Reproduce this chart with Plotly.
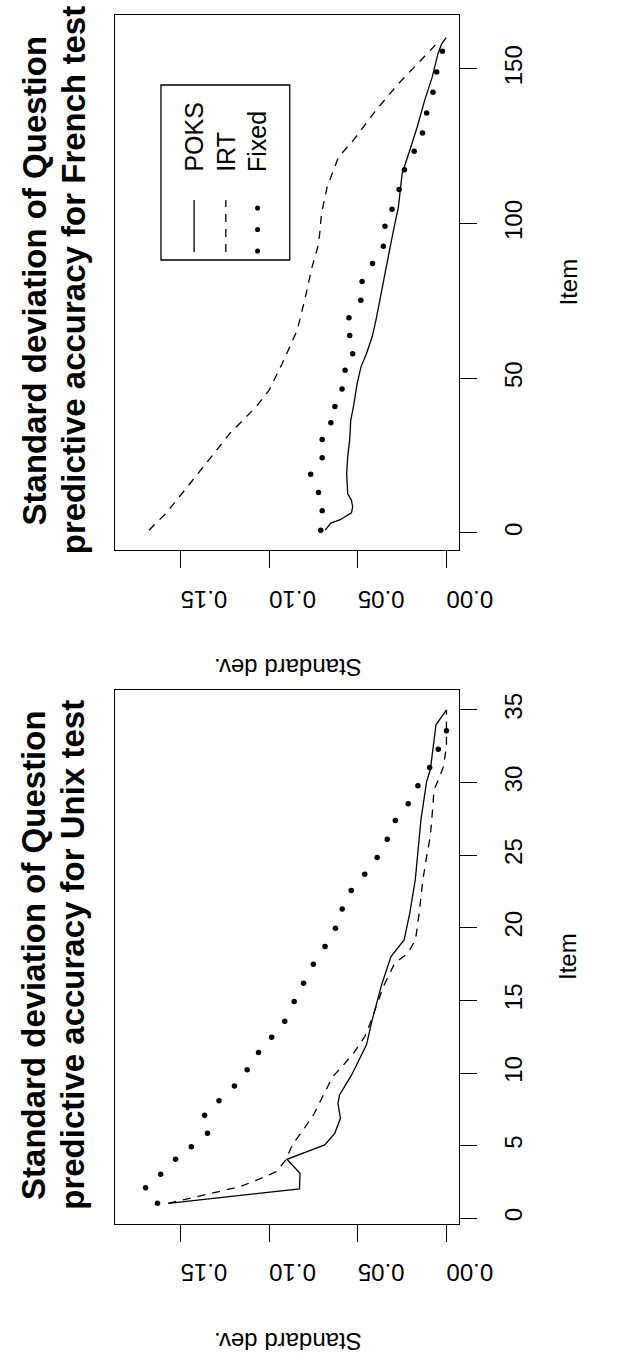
import plotly.graph_objects as go

W, H = 621, 1370

# ---------------- data: French test ----------------
fr_fixed_item = [0.9, 7.2, 13.1, 19.0, 24.3, 30.2, 35.6, 40.9, 46.5, 52.6, 57.9, 63.8, 69.6, 75.2,
                 81.3, 87.1, 92.7, 99.1, 104.6, 111.0, 117.4, 123.4, 129.3, 135.7, 142.4, 149.0, 155.7]
fr_fixed_sd = [0.0709, 0.0701, 0.0722, 0.0766, 0.0701, 0.0701, 0.0652, 0.0629, 0.0589, 0.0572, 0.0529,
               0.0546, 0.0550, 0.0483, 0.0476, 0.0417, 0.0356, 0.0347, 0.0307, 0.0267, 0.0237, 0.0182,
               0.0135, 0.0112, 0.0076, 0.0055, 0.0023]

fr_poks_item = [0.9, 3.2, 4.3, 6.5, 8.4, 10.6, 12.7, 19.2, 24.6, 30.0, 36.4, 40.7, 48.3, 53.7, 58.0,
                63.4, 68.7, 78.4, 88.1, 96.7, 105.4, 116.1, 123.7, 131.2, 139.8, 147.4, 154.9, 158.1, 160.1]
fr_poks_sd = [0.0684, 0.0652, 0.0599, 0.0536, 0.0529, 0.0536, 0.0557, 0.0563, 0.0557, 0.0546, 0.0540,
              0.0525, 0.0504, 0.0482, 0.0451, 0.0419, 0.0398, 0.0366, 0.0334, 0.0303, 0.0271, 0.0250,
              0.0207, 0.0165, 0.0123, 0.0080, 0.0048, 0.0027, 0.0002]

fr_irt_item = [0.9, 6.3, 13.8, 23.0, 32.1, 40.7, 46.1, 54.7, 65.5, 75.2, 86.0, 92.4, 96.7, 103.2,
               111.8, 121.5, 126.9, 136.6, 145.2, 152.8, 159.2]
fr_irt_sd = [0.1678, 0.1583, 0.1477, 0.1350, 0.1223, 0.1075, 0.1001, 0.0927, 0.0842, 0.0800, 0.0758,
             0.0726, 0.0715, 0.0705, 0.0673, 0.0609, 0.0525, 0.0398, 0.0271, 0.0144, 0.0038]

# ---------------- data: Unix test ----------------
ux_fixed_item = [1.03, 2.11, 3.03, 4.06, 4.93, 5.85, 7.09, 8.10, 9.11, 10.22, 11.41, 12.47, 13.57,
                 14.92, 16.18, 17.49, 18.71, 19.97, 21.30, 22.57, 23.69, 24.84, 26.10, 27.39, 28.54,
                 29.78, 31.04, 32.30, 33.56]
ux_fixed_sd = [0.1630, 0.1697, 0.1612, 0.1528, 0.1439, 0.1348, 0.1364, 0.1283, 0.1196, 0.1124, 0.1060,
               0.0986, 0.0912, 0.0859, 0.0806, 0.0751, 0.0685, 0.0626, 0.0588, 0.0537, 0.0461, 0.0391,
               0.0334, 0.0288, 0.0216, 0.0161, 0.0095, 0.0046, 0.0000]

ux_poks_item = [1.03, 2.02, 3.10, 4.06, 5.05, 5.85, 6.88, 7.91, 8.49, 9.87, 11.94, 13.66, 16.07, 18.02,
                19.17, 21.0, 23.3, 26.06, 27.43, 30.07, 30.88, 33.98, 35.0]
ux_poks_sd = [0.1569, 0.0829, 0.0826, 0.0900, 0.0687, 0.0630, 0.0598, 0.0612, 0.0603, 0.0535, 0.0451,
              0.0419, 0.0366, 0.0313, 0.0239, 0.0207, 0.0176, 0.0154, 0.0144, 0.0112, 0.0091, 0.0059, 0.0]

ux_irt_item = [1.03, 1.31, 1.67, 2.18, 2.69, 3.21, 4.01, 5.05, 6.08, 7.23, 8.49, 9.76, 10.45, 11.36,
               12.51, 13.43, 15.95, 17.56, 18.25, 19.17, 21.0, 23.3, 24.9, 26.3, 27.9, 29.5, 30.4,
               31.1, 32.5, 35.0]
ux_irt_sd = [0.1569, 0.1466, 0.1341, 0.1164, 0.1057, 0.0959, 0.0906, 0.0870, 0.0808, 0.0745, 0.0694,
             0.0641, 0.0588, 0.0525, 0.0461, 0.0430, 0.0356, 0.0292, 0.0218, 0.0175, 0.0154, 0.0133,
             0.0112, 0.0091, 0.0080, 0.0070, 0.0038, 0.0017, 0.0, 0.0]

sd_ticks = [0.0, 0.05, 0.10, 0.15]
sd_ticktext = ["0.00", "0.05", "0.10", "0.15"]
fr_item_ticks = [0, 50, 100, 150]
ux_item_ticks = [0, 5, 10, 15, 20, 25, 30, 35]
legend_names = ["POKS", "IRT", "Fixed"]

# ---------------- layout helpers ----------------
FONT = "Liberation Sans, Arial, Helvetica, sans-serif"
LW = 1.3


def px(x):
    return x / W


def py(y):
    return 1 - y / H


box_l, box_r = 121, 485
fr_top, fr_bot = 15, 549.7
ux_top, ux_bot = 690.2, 1223.5

fig = go.Figure()


def add_series(xa, ya, items_p, sd_p, items_i, sd_i, items_f, sd_f):
    fig.add_trace(go.Scatter(x=sd_p, y=items_p, mode="lines", xaxis=xa, yaxis=ya,
                             line=dict(color="black", width=LW), showlegend=False))
    fig.add_trace(go.Scatter(x=sd_i, y=items_i, mode="lines", xaxis=xa, yaxis=ya,
                             line=dict(color="black", width=LW, dash="8px,7px"), showlegend=False))
    fig.add_trace(go.Scatter(x=sd_f, y=items_f, mode="markers", xaxis=xa, yaxis=ya,
                             marker=dict(color="black", size=5.5), showlegend=False))


add_series("x", "y", fr_poks_item, fr_poks_sd, fr_irt_item, fr_irt_sd, fr_fixed_item, fr_fixed_sd)
add_series("x2", "y2", ux_poks_item, ux_poks_sd, ux_irt_item, ux_irt_sd, ux_fixed_item, ux_fixed_sd)

common_x = dict(
    domain=[px(box_l), px(box_r)], range=[0.1872, -0.0072],
    tickvals=sd_ticks, ticktext=sd_ticktext, tickangle=180,
    ticks="outside", ticklen=17, tickwidth=LW, tickcolor="black",
    showline=True, mirror=True, linecolor="black", linewidth=LW,
    showgrid=False, zeroline=False, ticklabelstandoff=18,
    tickfont=dict(family=FONT, size=24, color="black"),
)
common_y = dict(
    side="right", tickangle=-90,
    ticks="outside", ticklen=17, tickwidth=LW, tickcolor="black",
    showline=True, mirror=True, linecolor="black", linewidth=LW,
    showgrid=False, zeroline=False, ticklabelstandoff=16,
    tickfont=dict(family=FONT, size=24, color="black"),
)

fig.update_layout(
    width=W, height=H, autosize=False,
    margin=dict(l=0, r=0, t=0, b=0),
    paper_bgcolor="white", plot_bgcolor="white",
    showlegend=False,
    xaxis=dict(anchor="y", **common_x),
    yaxis=dict(anchor="x", domain=[py(fr_bot), py(fr_top)], range=[-5.4, 167.4],
               tickvals=fr_item_ticks, **common_y),
    xaxis2=dict(anchor="y2", **common_x),
    yaxis2=dict(anchor="x2", domain=[py(ux_bot), py(ux_top)], range=[-0.36, 36.36],
                tickvals=ux_item_ticks, **common_y),
)

annotations = []
shapes = []


def text(x, y, s, size, angle, xanchor="center", yanchor="middle", bold=False):
    annotations.append(dict(
        x=px(x), y=py(y), xref="paper", yref="paper", text=("<b>%s</b>" % s) if bold else s,
        showarrow=False, textangle=angle, xanchor=xanchor, yanchor=yanchor, borderpad=0,
        font=dict(family=FONT, size=size, color="black")))


for (top, bot, test) in [(fr_top, fr_bot, "French"), (ux_top, ux_bot, "Unix")]:
    cy = (top + bot) / 2
    text(36, cy - 2, "Standard deviation of Question", 33, -90, bold=True)
    text(77, cy - 2, "predictive accuracy for %s test" % test, 33, -90, bold=True)
    text(600, cy, "Item", 24, -90)
    text(304, bot + 118, "Standard dev.", 24, 180)

# legend (French panel)
lg_l, lg_r, lg_t, lg_b = 170, 306, 85, 260
shapes.append(dict(type="rect", xref="paper", yref="paper", x0=px(lg_l), x1=px(lg_r),
                   y0=py(lg_b), y1=py(lg_t), line=dict(color="black", width=LW)))
rows = [205, 238.5, 272]
shapes.append(dict(type="line", xref="paper", yref="paper", x0=px(rows[0]), x1=px(rows[0]),
                   y0=py(252), y1=py(200), line=dict(color="black", width=LW)))
shapes.append(dict(type="line", xref="paper", yref="paper", x0=px(rows[1]), x1=px(rows[1]),
                   y0=py(252), y1=py(200), line=dict(color="black", width=LW, dash="8px,7px")))
for dy in [208, 229.5, 251]:
    shapes.append(dict(type="circle", xref="paper", yref="paper",
                       x0=px(rows[2] - 2.6), x1=px(rows[2] + 2.6),
                       y0=py(dy + 2.6), y1=py(dy - 2.6),
                       fillcolor="black", line=dict(color="black", width=0)))
for r, name in zip(rows, legend_names):
    text(r, 173, name, 25, -90, yanchor="bottom")

fig.update_layout(annotations=annotations, shapes=shapes)
fig.write_html("out.html")
